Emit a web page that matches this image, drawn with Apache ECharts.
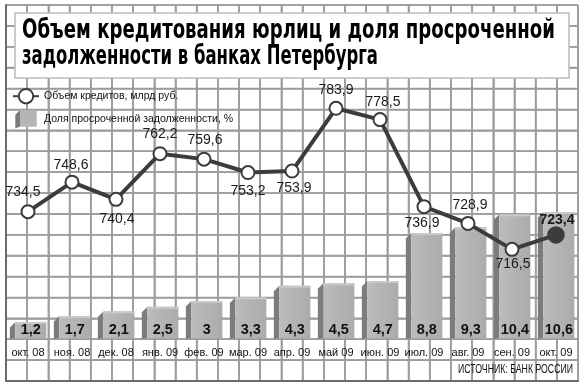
<!DOCTYPE html>
<html><head><meta charset="utf-8">
<script src="https://cdn.jsdelivr.net/npm/echarts@6/dist/echarts.min.js"></script>
<style>html,body{margin:0;padding:0;background:#fff}#c{width:582px;height:387px}</style>
</head><body><div id="c"></div>
<script>
const categories = ['окт. 08','ноя. 08','дек. 08','янв. 09','фев. 09','мар. 09','апр. 09','май 09','июн. 09','июл. 09','авг. 09','сен. 09','окт. 09'];
const overdueShare = [1.2,1.7,2.1,2.5,3,3.3,4.3,4.5,4.7,8.8,9.3,10.4,10.6];
const loanVolume = [734.5,748.6,740.4,762.2,759.6,753.2,753.9,783.9,778.5,736.9,728.9,716.5,723.4];
const titleLines = ['Объем кредитования юрлиц и доля просроченной','задолженности в банках Петербурга'];
const seriesNames = ['Объем кредитов, млрд руб.','Доля просроченной задолженности, %'];
const sourceText = 'ИСТОЧНИК: БАНК РОССИИ';
// label placement tweaks (label centre offset from the point, px)
const labelOffsets = [[-5,-20],[-1,-17],[1,20],[0,-20],[1,-19],[0,19],[2,17],[0,-18],[3,-17],[-2,16],[2,-18],[1,15],[1,-15]];
// background paper grid: number of cells
const paperCols = 27, paperRows = 18;

const SANS = "'Liberation Sans',Arial,sans-serif";
const HEAVY = "'DejaVu Sans','Liberation Sans',sans-serif";

function measure(text, font){const c=document.createElement('canvas').getContext('2d');c.font=font;return c.measureText(text).width;}
const titleFont = "bold 26px " + HEAVY;
const titleScale1 = 533 / measure(titleLines[0], titleFont);
const titleScale2 = 356 / measure(titleLines[1], titleFont);
const srcFont = "12px " + SANS;
const srcScale = 115 / measure(sourceText, srcFont);

const chart = echarts.init(document.getElementById('c'), null, {renderer:'canvas'});

const barFront = {type:'linear',x:0,y:0,x2:1,y2:0,colorStops:[{offset:0,color:'#bcbcbc'},{offset:1,color:'#ababab'}]};
const legendCube = {type:'linear',x:0,y:0,x2:1,y2:0,colorStops:[{offset:0,color:'#7a7a7a'},{offset:0.24,color:'#7a7a7a'},{offset:0.24,color:'#b5b5b5'},{offset:1,color:'#b5b5b5'}]};
const paperLine = {color:'#9c9c9c',width:1.6,type:'solid'};

const paperData = [];
for(let i=0;i<=paperCols;i++) paperData.push([i,0,0]);
for(let j=0;j<=paperRows;j++) paperData.push([0,j,1]);

const option = {
  animation:false,
  grid:[
    {left:6,right:4,top:5,bottom:6,show:false},
    {left:6,right:4,top:102,bottom:51,show:false}
  ],
  xAxis:[
    {gridIndex:0,type:'value',min:0,max:paperCols,interval:1,z:2.9,axisLabel:{show:false},axisTick:{show:false},
     axisLine:{show:true,onZero:false,lineStyle:{color:'#6a6a6a',width:2}},
     splitLine:{show:true,showMinLine:true,showMaxLine:true,lineStyle:paperLine}},
    {gridIndex:1,type:'category',data:categories,z:4,axisLine:{show:false},axisTick:{show:false},splitLine:{show:false},
     axisLabel:{margin:11,fontSize:11,color:'#111',fontFamily:SANS,interval:0}}
  ],
  yAxis:[
    {gridIndex:0,type:'value',min:0,max:paperRows,interval:1,z:2.9,axisLabel:{show:false},axisTick:{show:false},
     axisLine:{show:true,onZero:false,lineStyle:{color:'#6a6a6a',width:2}},
     splitLine:{show:true,showMinLine:true,showMaxLine:true,lineStyle:paperLine}},
    {gridIndex:1,type:'value',min:0,max:20,show:false},
    {gridIndex:1,type:'value',min:675.1,max:786.9,show:false}
  ],
  legend:{
    orient:'vertical',left:7,top:83,padding:5,itemWidth:26,itemHeight:18,itemGap:6,
    textStyle:{fontSize:10.5,color:'#111',fontFamily:SANS},
    data:[
      {name:seriesNames[0]},
      {name:seriesNames[1],icon:'path://M0 5L5 0L25 0L25 19L5 19L0 21Z',itemStyle:{color:legendCube}}
    ]
  },
  graphic:[
    {type:'rect',z:100,shape:{x:15,y:13,width:554,height:65},style:{fill:'#fff',stroke:'#bdbdbd',lineWidth:1.6}},
    {type:'text',z:101,x:22,y:31.5,scaleX:titleScale1,style:{text:titleLines[0],font:titleFont,fill:'#000',align:'left',verticalAlign:'middle'}},
    {type:'text',z:101,x:22,y:57.5,scaleX:titleScale2,style:{text:titleLines[1],font:titleFont,fill:'#000',align:'left',verticalAlign:'middle'}},
    {type:'text',z:101,x:573,y:370,scaleX:srcScale,style:{text:sourceText,font:srcFont,fill:'#111',align:'right',verticalAlign:'middle'}}
  ],
  series:[
    {
      name:'paper',type:'custom',coordinateSystem:'cartesian2d',xAxisIndex:0,yAxisIndex:0,z:2.9,silent:true,
      encode:{x:0,y:1},
      data:paperData,
      renderItem:function(params,api){
        const a=api.value(0), b=api.value(1), kind=api.value(2);
        let p1,p2;
        if(kind===0){p1=api.coord([a,0]);p2=api.coord([a,paperRows]);}
        else {p1=api.coord([0,b]);p2=api.coord([paperCols,b]);}
        return {type:'group',children:[
          {type:'line',shape:{x1:p1[0],y1:p1[1],x2:p2[0],y2:p2[1]},style:{stroke:'#9c9c9c',lineWidth:1.6,fill:null}}
        ]};
      }
    },
    {
      name:seriesNames[1],type:'custom',xAxisIndex:1,yAxisIndex:1,z:3,
      itemStyle:{color:legendCube},
      data:overdueShare.map((v,i)=>[i,v]),
      renderItem:function(params,api){
        const idx=api.value(0), v=api.value(1);
        const top=api.coord([idx,v]), base=api.coord([idx,0]);
        const band=api.size([1,0])[0];
        const w=band*0.705, d=5.5;
        const cx=top[0]+band*0.065;
        const fx=cx-w/2;
        const bottom=base[1]+2;
        return {type:'group',children:[
          {type:'polygon',shape:{points:[[fx,top[1]],[fx-d,top[1]+d],[fx-d,bottom+1],[fx,bottom]]},style:{fill:'#7c7c7c'}},
          {type:'rect',shape:{x:fx,y:top[1],width:w,height:bottom-top[1]},style:{fill:barFront}},
          {type:'rect',shape:{x:fx,y:top[1],width:w,height:2},style:{fill:'#c9c9c9'}},
          {type:'text',z2:10,style:{text:String(v).replace('.',','),x:cx,y:base[1]-6,align:'center',verticalAlign:'middle',
            font:'bold 14.5px '+SANS,fill:'#111'}}
        ]};
      }
    },
    {
      name:seriesNames[0],type:'line',xAxisIndex:1,yAxisIndex:2,z:5,
      data:loanVolume.map((v,i)=>{
        const o={value:v,label:{offset:labelOffsets[i]}};
        if(i===loanVolume.length-1){o.symbol='circle';o.symbolSize=15;o.itemStyle={color:'#3c3c3c',borderColor:'#3c3c3c'};o.label.fontWeight='bold';}
        return o;
      }),
      symbol:'emptyCircle',symbolSize:13,
      lineStyle:{color:'#3c3c3c',width:4},
      itemStyle:{color:'#3c3c3c',borderColor:'#3c3c3c',borderWidth:2.5},
      label:{show:true,position:'inside',fontSize:14,color:'#1a1a1a',fontFamily:SANS,
        formatter:p=>String(p.value).replace('.',',')}
    }
  ]
};
chart.setOption(option);
</script></body></html>
